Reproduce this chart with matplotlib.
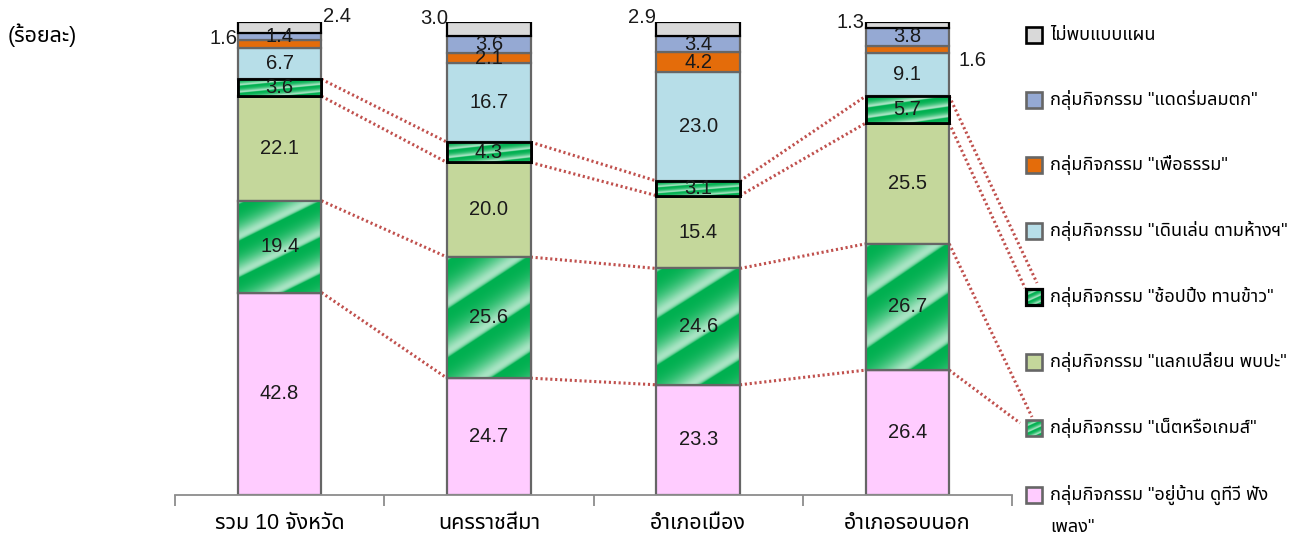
import matplotlib
matplotlib.use("Agg")
import matplotlib.pyplot as plt
import numpy as np
from matplotlib.patches import Rectangle

plt.rcParams['font.family'] = ['Liberation Sans', 'Noto Sans Thai']

# data (percent), stacked bottom -> top
areas = ['รวม 10 จังหวัด', 'นครราชสีมา', 'อำเภอเมือง', 'อำเภอรอบนอก']
home = [42.8, 24.7, 23.3, 26.4]
net_game = [19.4, 25.6, 24.6, 26.7]
meet = [22.1, 20.0, 15.4, 25.5]
shop_eat = [3.6, 4.3, 3.1, 5.7]
mall_walk = [6.7, 16.7, 23.0, 9.1]
merit = [1.6, 2.1, 4.2, 1.6]
evening = [1.4, 3.6, 3.4, 3.8]
no_pattern = [2.4, 3.0, 2.9, 1.3]

names = [
    'กลุ่มกิจกรรม "อยู่บ้าน ดูทีวี ฟัง\nเพลง"',
    'กลุ่มกิจกรรม "เน็ตหรือเกมส์"',
    'กลุ่มกิจกรรม "แลกเปลี่ยน พบปะ"',
    'กลุ่มกิจกรรม "ช้อปปิ้ง ทานข้าว"',
    'กลุ่มกิจกรรม "เดินเล่น ตามห้างฯ"',
    'กลุ่มกิจกรรม "เพื่อธรรม"',
    'กลุ่มกิจกรรม "แดดร่มลมตก"',
    'ไม่พบแบบแผน',
]
series = [home, net_game, meet, shop_eat, mall_walk, merit, evening, no_pattern]

GREEN = '#00B050'
GRAY_EDGE = '#666666'
styles = [
    dict(color='#FFCCFF', edge=GRAY_EDGE, lw=1.6, grad=False),
    dict(color=GREEN, edge=GRAY_EDGE, lw=1.6, grad=True),
    dict(color='#C4D79B', edge=GRAY_EDGE, lw=1.6, grad=False),
    dict(color=GREEN, edge='black', lw=2.0, grad=True),
    dict(color='#B7DEE8', edge=GRAY_EDGE, lw=1.6, grad=False),
    dict(color='#E46C0A', edge=GRAY_EDGE, lw=1.6, grad=False),
    dict(color='#95A9D3', edge=GRAY_EDGE, lw=1.6, grad=False),
    dict(color='#D9D9D9', edge='black', lw=1.6, grad=False),
]

# labels moved outside the bar: (series, bar) -> pixel offset from segment centre
moved = {
    (7, 0): (57, 11), (5, 0): (-56, 5),
    (7, 1): (-55, 11),
    (7, 2): (-56, 12),
    (7, 3): (-57, 2), (5, 3): (65, -11),
}


def stripes(n=200):
    # green/white diagonal sheen in the shape's unit square:
    # fades up to white going down, then eases back to green
    u = np.linspace(0, 1, n)[None, :]
    v = np.linspace(0, 1, n)[:, None]
    t = v + 0.45 * u
    period = 0.40
    ph = np.mod(t + 0.36, period) / period
    w = ph ** 2.4 * (1 - np.exp(-(1 - ph) * 14))
    w = np.clip(w * 1.1, 0, 1)
    g = np.array([0x00, 0xB0, 0x50]) / 255.0
    return g[None, None, :] * (1 - w[..., None]) + w[..., None]


W, H = 1299, 549
fig = plt.figure(figsize=(W / 100, H / 100), dpi=100)
ax = fig.add_axes([175 / W, 54 / H, (1012 - 175) / W, (495 - 22) / H])
x = np.arange(len(areas))
bw = 0.4
sheen = stripes()

bottom = np.zeros(len(areas))
tops = []
for k, (vals, st) in enumerate(zip(series, styles)):
    vals = np.array(vals)
    bars = ax.bar(x, vals, bw, bottom=bottom, color=st['color'],
                  edgecolor=st['edge'], linewidth=st['lw'], zorder=2)
    for i, b in enumerate(bars):
        if st['grad']:
            im = ax.imshow(sheen, extent=(x[i] - bw / 2, x[i] + bw / 2,
                                          bottom[i], bottom[i] + vals[i]),
                           aspect='auto', origin='upper', zorder=2.1)
            im.set_clip_path(b)
            # outline again on top of the sheen
            ax.add_patch(Rectangle((x[i] - bw / 2, bottom[i]), bw, vals[i],
                                   fill=False, edgecolor=st['edge'],
                                   linewidth=st['lw'], zorder=2.2))
        cy = bottom[i] + vals[i] / 2
        dx, dy = moved.get((k, i), (0, 0))
        ax.annotate(f'{vals[i]:.1f}', xy=(x[i], cy), xytext=(dx, dy),
                    textcoords='offset pixels', ha='center', va='center',
                    fontsize=14.5, color='#1a1a1a', zorder=5)
    bottom = bottom + vals
    tops.append(bottom.copy())

ax.set_xlim(-0.5, 3.5)
ax.set_ylim(0, 100)

# dotted series lines between neighbouring bars
LINE = dict(color='#C0504D', linestyle=(0, (0.7, 0.9)), linewidth=2.2)
for k in range(4):
    for i in range(len(areas) - 1):
        ax.plot([x[i] + bw / 2, x[i + 1] - bw / 2], [tops[k][i], tops[k][i + 1]],
                zorder=1, **LINE)

for s in ['top', 'left', 'right']:
    ax.spines[s].set_visible(False)
ax.spines['bottom'].set_color('#8C8C8C')
ax.spines['bottom'].set_linewidth(1.3)
ax.set_yticks([])
ax.set_xticks(x)
ax.set_xticklabels(areas, fontsize=15.5)
ax.tick_params(axis='x', which='major', length=0, pad=13)
ax.set_xticks(np.arange(-0.5, 4, 1), minor=True)
ax.tick_params(axis='x', which='minor', length=8, width=1.3, color='#8C8C8C')
ax.patch.set_visible(False)

fig.text(8 / W, 1 - 35 / H, '(ร้อยละ)', fontsize=15.5, va='center', ha='left')

# legend drawn in pixel space (y downwards)
lax = fig.add_axes([0, 0, 1, 1], zorder=-1)
lax.set_xlim(0, W)
lax.set_ylim(H, 0)
lax.axis('off')
ys = [35, 100, 165, 231, 297, 362, 428, 495]
order = list(range(len(series)))[::-1]
for y, k in zip(ys, order):
    st = styles[k]
    r = Rectangle((1026, y - 8), 16, 16, facecolor=st['color'],
                  edgecolor=st['edge'], linewidth=st['lw'] + 0.3, zorder=3)
    lax.add_patch(r)
    if st['grad']:
        im = lax.imshow(sheen, extent=(1026, 1042, y + 8, y - 8), aspect='auto',
                        origin='upper', zorder=2.5)
        im.set_clip_path(r)
        r.set_facecolor('none')
    lines = names[k].split('\n')
    lax.text(1050, y, lines[0], fontsize=13, va='center', ha='left')
    if len(lines) > 1:
        lax.text(1050, y + 32, lines[1], fontsize=13, va='center', ha='left')
lax.set_xlim(0, W)
lax.set_ylim(H, 0)

# series lines running on into the legend keys
for k, end in [(3, (1037, 283)), (2, (1025, 288)), (1, (1032, 417)), (0, (1020, 423))]:
    px, py = ax.transData.transform((x[-1] + bw / 2, tops[k][-1]))
    lax.plot([px, end[0]], [H - py, end[1]], zorder=1, **LINE)
lax.set_xlim(0, W)
lax.set_ylim(H, 0)

fig.savefig('out.png', dpi=100)
